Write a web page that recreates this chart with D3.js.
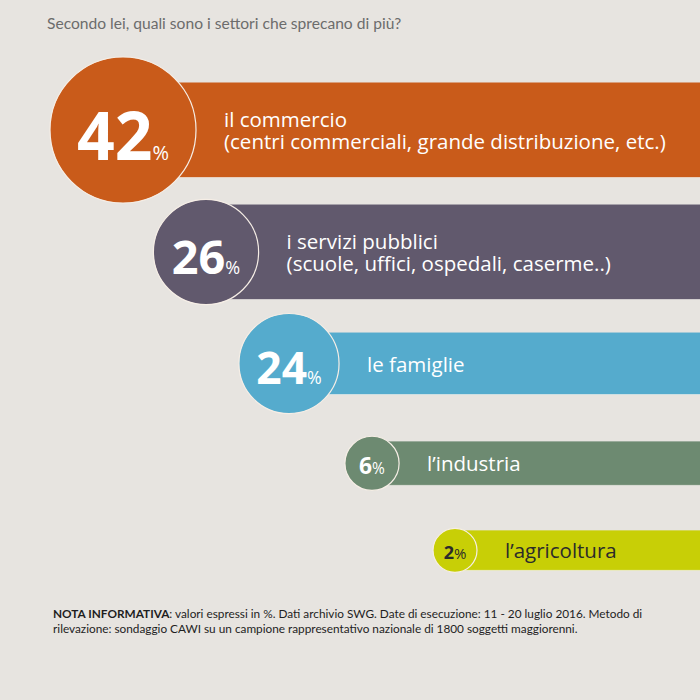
<!DOCTYPE html>
<html>
<head>
<meta charset="utf-8">
<script src="https://cdn.jsdelivr.net/npm/d3@7"></script>
<style>
  html, body { margin: 0; padding: 0; background: #e7e4e0; }
  svg { display: block; }
</style>
</head>
<body>
<svg id="chart"></svg>
<script>
// Data
const sectors = ["commercio", "servizi", "famiglie", "industria", "agricoltura"];
const values = [42, 26, 24, 6, 2];
const labelLines = [
  ["il commercio", "(centri commerciali, grande distribuzione, etc.)"],
  ["i servizi pubblici", "(scuole, uffici, ospedali, caserme..)"],
  ["le famiglie"],
  ["l\u2019industria"],
  ["l\u2019agricoltura"]
];
const colors = ["#c95b1a", "#61596d", "#55abcd", "#6d8a71", "#c8cf06"];
const textColors = ["#ffffff", "#ffffff", "#ffffff", "#ffffff", "#2b2b2b"];

const title = "Secondo lei, quali sono i settori che sprecano di più?";
const noteBold = "NOTA INFORMATIVA";
const noteLine1 = ": valori espressi in %. Dati archivio SWG. Date di esecuzione: 11 - 20 luglio 2016. Metodo di";
const noteLine2 = "rilevazione: sondaggio CAWI su un campione rappresentativo nazionale di 1800 soggetti maggiorenni.";

const width = 700, height = 700;
const svg = d3.select("#chart").attr("width", width).attr("height", height);

svg.append("rect").attr("width", width).attr("height", height).attr("fill", "#e7e4e0");

// Scales
const r = d3.scaleLinear().domain([2, 42]).range([22, 73]);
const bandH = d3.scaleLinear().domain([2, 24]).range([40, 62]);
const cxScale = d3.scalePoint().domain(sectors).range([123, 455]);
const numSize = d3.scaleLinear().domain([22, 73]).range([18, 66]);
const pctSize = d3.scaleLinear().domain([22, 73]).range([15, 20]);

// Rows: vertical stacking depends on neighbouring circle sizes
const rows = [];
sectors.forEach((s, i) => {
  const rad = r(values[i]);
  const lines = labelLines[i];
  const h = lines.length > 1 ? 95 : bandH(values[i]);
  const cy = i === 0 ? 130 : rows[i - 1].cy + 64.5 + 0.458 * (rows[i - 1].r + rad);
  rows.push({ key: s, value: values[i], r: rad, h, cy, cx: cxScale(s), lines, color: colors[i], text: textColors[i] });
});

// Title
svg.append("text")
  .attr("x", 47)
  .attr("y", 29)
  .attr("fill", "#6c6c6c")
  .style("font-family", "Lato, 'Open Sans', sans-serif")
  .style("font-size", "15.6px")
  .text(title);

const row = svg.selectAll("g.row")
  .data(rows)
  .enter()
  .append("g")
  .attr("class", "row");

// Bands
row.append("rect")
  .attr("x", d => d.cx)
  .attr("y", d => d.cy - d.h / 2)
  .attr("width", d => width - d.cx)
  .attr("height", d => d.h)
  .attr("fill", d => d.color);

// faint light edge under each band
row.append("line")
  .attr("x1", d => d.cx)
  .attr("x2", width)
  .attr("y1", d => d.cy + d.h / 2)
  .attr("y2", d => d.cy + d.h / 2)
  .attr("stroke", "#f4f1ec")
  .attr("stroke-opacity", 0.6)
  .attr("stroke-width", 1);

// Circles
row.append("circle")
  .attr("cx", d => d.cx)
  .attr("cy", d => d.cy)
  .attr("r", d => d.r)
  .attr("fill", d => d.color)
  .attr("stroke", "#f6eee6")
  .attr("stroke-width", 1.2);

// Value labels
const num = row.append("text")
  .attr("x", d => d.cx)
  .attr("y", d => d.cy + 0.46 * numSize(d.r))
  .attr("text-anchor", "middle")
  .attr("fill", d => d.text)
  .style("font-family", "'Open Sans', sans-serif");

num.append("tspan")
  .style("font-weight", 700)
  .style("font-size", d => numSize(d.r) + "px")
  .text(d => d.value);

num.append("tspan")
  .style("font-weight", 400)
  .style("font-size", d => pctSize(d.r) + "px")
  .text("%");

// Category labels
const lineH = 22;
const lab = row.append("text")
  .attr("fill", d => d.text)
  .style("font-family", "'Open Sans', sans-serif")
  .style("font-size", "20.5px");

lab.selectAll("tspan")
  .data(d => d.lines.map((t, j) => ({ t, j, d })))
  .enter()
  .append("tspan")
  .attr("x", o => o.d.cx + o.d.r + 28)
  .attr("y", o => o.d.cy + 8 - (o.d.lines.length - 1) * lineH / 2 + o.j * lineH)
  .text(o => o.t);

// Footnote
const note = svg.append("g")
  .style("font-family", "Lato, sans-serif")
  .style("font-size", "11.8px")
  .attr("fill", "#1e1e1e");

const n1 = note.append("text").attr("x", 53).attr("y", 618);
n1.append("tspan").style("font-weight", 700).text(noteBold);
n1.append("tspan").text(noteLine1);

note.append("text").attr("x", 53).attr("y", 633).text(noteLine2);
</script>
</body>
</html>
